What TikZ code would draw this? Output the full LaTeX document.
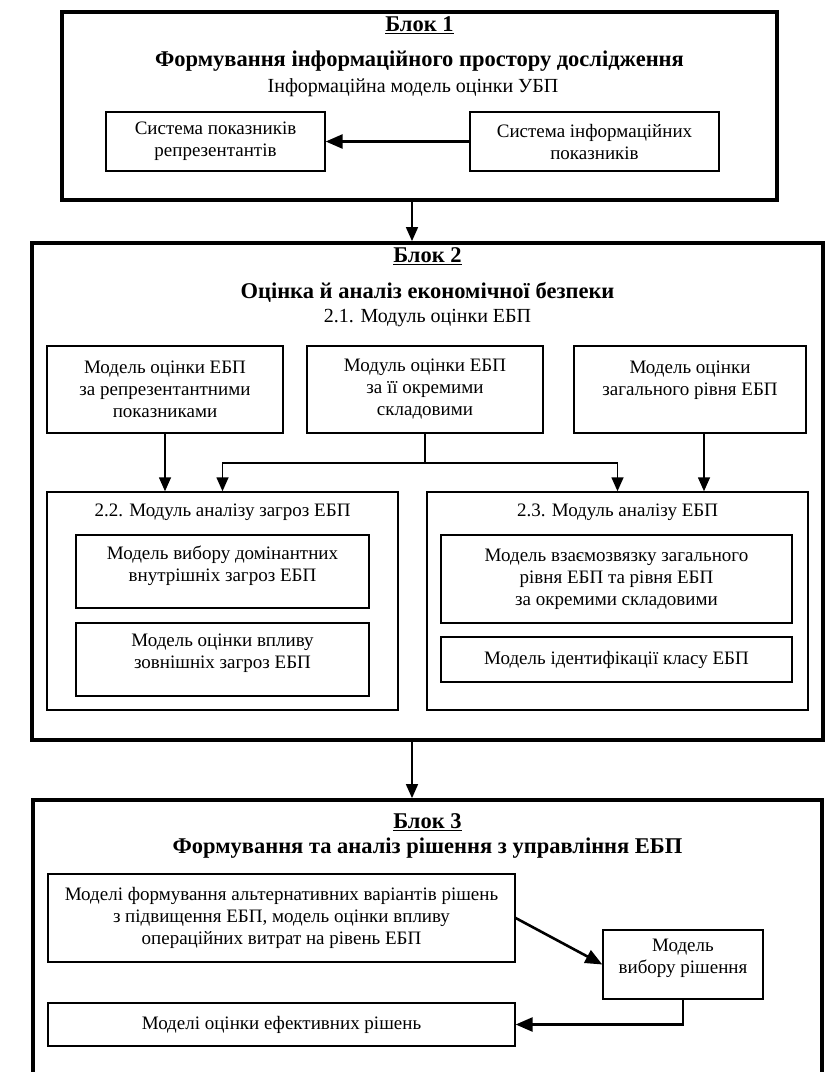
\documentclass[tikz,border=0pt]{standalone}
\usepackage{fontspec}
\setmainfont{Liberation Serif}
\usetikzlibrary{arrows.meta}

\begin{document}
\begin{tikzpicture}[x=1pt,y=-1pt,
    >={Triangle[length=14pt,width=12pt]},
    blok/.style={draw,line width=3.8pt,inner sep=0pt},
    modul/.style={draw,line width=1.5pt,inner sep=0pt},
    box/.style={draw,line width=1.3pt,inner sep=0pt,align=center,font=\fontsize{19}{22}\selectfont},
    heading/.style={font=\fontsize{22.5}{26}\selectfont\bfseries},
    subtitle/.style={font=\fontsize{20}{24}\selectfont},
    modtitle/.style={font=\fontsize{19}{22}\selectfont},
    link/.style={->,line width=1.6pt},
    thicklink/.style={-{Triangle[length=17pt,width=14pt]},line width=2.6pt}]
                \useasboundingbox (0,0) rectangle (829,1072);
                \clip (0,0) rectangle (829,1072);
                \coordinate (axis) at (412,0);

                \node[blok,minimum width=715pt,minimum height=188pt] (blk1) at (419.5,106) {};
                \node[heading] (num1) at (419.5,25) {\underline{Блок 1}};
                \node[heading] (title1) at (419.5,61) {Формування інформаційного простору дослідження};
                \node[subtitle] (sub1) at (413,88) {Інформаційна модель оцінки УБП};
                \node[box,minimum width=219pt,minimum height=59pt] (repr) at (215.5,141.5) {Система показників\\репрезентантів};
                \node[box,minimum width=249pt,minimum height=59pt] (info) at (594.5,141.5) {Система інформаційних\\показників};

                \node[blok,minimum width=791pt,minimum height=497pt] (blk2) at (427.5,491.5) {};
                \node[heading] (num2) at (427.5,256) {\underline{Блок 2}};
                \node[heading] (title2) at (427.5,292) {Оцінка й аналіз економічної безпеки};
                \node[subtitle] (sub2) at (427.5,318) {2.1. Модуль оцінки ЕБП};
                \node[box,minimum width=236pt,minimum height=87pt] (mrepr) at (165,389.5) {Модель оцінки ЕБП\\за репрезентантними\\показниками};
                \node[box,minimum width=236pt,minimum height=87pt] (mskl) at (425,389.5) {Модуль оцінки ЕБП\\за її окремими\\складовими};
                \node[box,minimum width=232pt,minimum height=87pt] (mzag) at (690,389.5) {Модель оцінки\\загального рівня ЕБП\\\vphantom{Мп}};
                \node[modul,minimum width=351pt,minimum height=218pt] (zagr) at (222.5,601) {};
                \node[modul,minimum width=381pt,minimum height=218pt] (anal) at (617.5,601) {};
                \node[modtitle] (zagrtitle) at (222.5,512) {2.2. Модуль аналізу загроз ЕБП};
                \node[modtitle] (analtitle) at (617.5,512) {2.3. Модуль аналізу ЕБП};
                \node[box,minimum width=293pt,minimum height=73pt] (vnutr) at (222.5,571.5) {Модель вибору домінантних\\внутрішніх загроз ЕБП\\[-6pt]};
                \node[box,minimum width=293pt,minimum height=73pt] (zovn) at (222.5,659.5) {Модель оцінки впливу\\зовнішніх загроз ЕБП\\[-6pt]};
                \node[box,minimum width=351pt,minimum height=88pt] (vzaem) at (616.5,579) {Модель взаємозвязку загального\\рівня ЕБП та рівня ЕБП\\за окремими складовими};
                \node[box,minimum width=351pt,minimum height=45pt] (klas) at (616.5,659.5) {Модель ідентифікації класу ЕБП};

                \node[blok,minimum width=789pt,minimum height=320pt] (blk3) at (427.5,960) {};
                \node[heading] (num3) at (427.5,822) {\underline{Блок 3}};
                \node[heading] (title3) at (427.5,848) {Формування та аналіз рішення з управління ЕБП};
                \node[box,minimum width=467pt,minimum height=88pt] (alter) at (281.5,918) {Моделі формування альтернативних варіантів рішень\\з підвищення ЕБП, модель оцінки впливу\\операційних витрат на рівень ЕБП};
                \node[box,minimum width=160pt,minimum height=69pt] (vybir) at (683,964.5) {Модель\\вибору рішення\\[-6pt]};
                \node[box,minimum width=467pt,minimum height=43pt] (efekt) at (281.5,1024.5) {Моделі оцінки ефективних рішень};

                \coordinate (fork) at (425,463);
                \draw[thicklink] (info) to (repr);
                \draw[link] (blk1.south -| axis) to (blk2.north -| axis);
                \draw[link] (mrepr.south) to (mrepr.south |- zagr.north);
                \draw[link] ([xshift=14pt]mzag.south) to ([xshift=14pt]mzag.south |- anal.north);
                \draw[line width=1.6pt] (mskl.south) to (fork);
                \draw[link] (fork) -| (zagr.north); \draw[link] (fork) -| (anal.north);
                \draw[link] (blk2.south -| axis) to (blk3.north -| axis);
                \draw[thicklink] (alter.east) to (vybir.west);
                \draw[thicklink] (vybir.south) |- (efekt.east);
            \end{tikzpicture}
\end{document}
